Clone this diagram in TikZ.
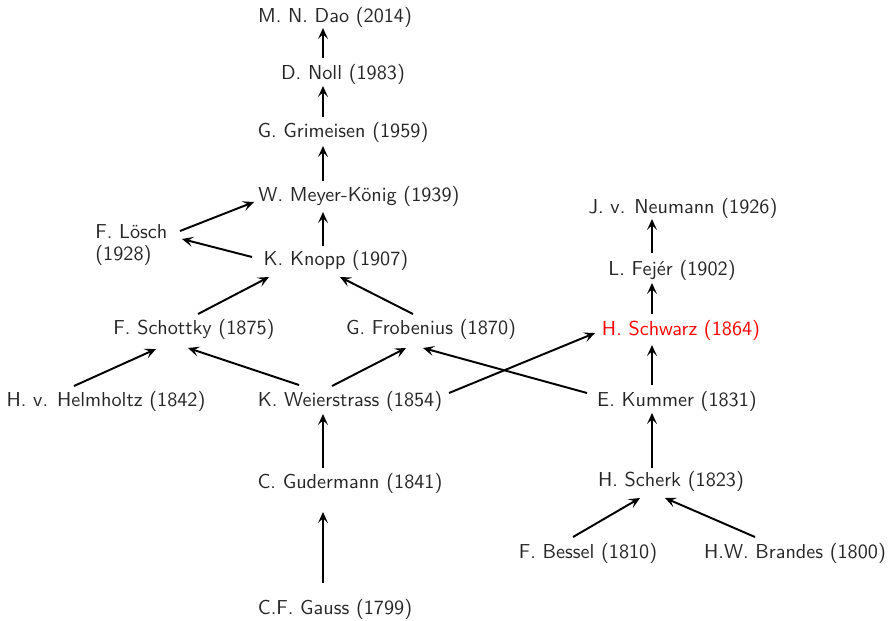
\documentclass[tikz,border=0pt]{standalone}
\usetikzlibrary{calc,arrows.meta}
\begin{document}
\begin{tikzpicture}[x=0.54pt,y=-0.54pt,
  person/.style={font=\sffamily\fontsize{10.9}{11.5}\selectfont, text=black!85, inner sep=0pt, anchor=center},
  link/.style={-{Stealth[length=6pt, width=5.4pt, inset=2.6pt]}, line width=1.05pt, black}]
\useasboundingbox (0,0) rectangle (888,621);
% nodes
\node[person] (dao) at (335,17) {M. N. Dao (2014)};
\node[person] (noll) at (343,74) {D. Noll (1983)};
\node[person] (grim) at (343,132) {G. Grimeisen (1959)};
\node[person] (mk) at (359,196) {W. Meyer-K\"onig (1939)};
\node[person, anchor=west, align=left] (losch) at (95,245) {F. L\"osch\\(1928)};
\node[person] (knopp) at (336,260) {K. Knopp (1907)};
\node[person] (neumann) at (683,208) {J. v. Neumann (1926)};
\node[person] (fejer) at (672,270) {L. Fej\'er (1902)};
\node[person] (schottky) at (194,329) {F. Schottky (1875)};
\node[person] (frob) at (431,329) {G. Frobenius (1870)};
\node[person, text=red] (schwarz) at (681,330) {H. Schwarz (1864)};
\node[person] (helm) at (106,401) {H. v. Helmholtz (1842)};
\node[person] (weier) at (350,401) {K. Weierstrass (1854)};
\node[person] (kummer) at (677,401) {E. Kummer (1831)};
\node[person] (guder) at (350,483) {C. Gudermann (1841)};
\node[person] (scherk) at (671,481) {H. Scherk (1823)};
\node[person] (bessel) at (588,553) {F. Bessel (1810)};
\node[person] (brandes) at (795,553) {H.W. Brandes (1800)};
\node[person] (gauss) at (335,609) {C.F. Gauss (1799)};
% connectors
\draw[link] ($(noll)+(-20,-16)$) -- ($(dao)+(-12,11)$);
\draw[link] ($(grim)+(-20,-15)$) -- ($(noll)+(-20,12)$);
\draw[link] ($(mk)+(-36,-15)$) -- ($(grim)+(-20,14)$);
\draw[link] ($(knopp)+(-13,-14)$) -- ($(mk)+(-36,16)$);
\draw[link] ($(losch.west)+(85,-14)$) -- ($(mk)+(-105,6)$);
\draw[link] ($(knopp)+(-84,-3)$) -- ($(losch.west)+(87,-6)$);
\draw[link] ($(schottky)+(4,-15)$) -- ($(knopp)+(-67,17)$);
\draw[link] ($(frob)+(-18,-15)$) -- ($(knopp)+(4,17)$);
\draw[link] ($(helm)+(-32,-15)$) -- ($(schottky)+(-38,20)$);
\draw[link] ($(weier)+(-51,-16)$) -- ($(schottky)+(-6,19)$);
\draw[link] ($(weier)+(-18,-15)$) -- ($(frob)+(-25,19)$);
\draw[link] ($(weier)+(99,-8)$) -- ($(schwarz)+(-86,3)$);
\draw[link] ($(kummer)+(-90,-8)$) -- ($(frob)+(-8,19)$);
\draw[link] ($(kummer)+(-25,-16)$) -- ($(schwarz)+(-29,15)$);
\draw[link] ($(schwarz)+(-29,-16)$) -- ($(fejer)+(-20,13)$);
\draw[link] ($(fejer)+(-20,-17)$) -- ($(neumann)+(-31,11)$);
\draw[link] ($(scherk)+(-19,-13)$) -- ($(kummer)+(-25,12)$);
\draw[link] ($(guder)+(-27,-15)$) -- ($(weier)+(-27,13)$);
\draw[link] ($(gauss)+(-12,-26)$) -- ($(guder)+(-27,29)$);
\draw[link] ($(bessel)+(-15,-16)$) -- ($(scherk)+(-31,17)$);
\draw[link] ($(brandes)+(-40,-16)$) -- ($(scherk)+(-6,17)$);
\end{tikzpicture}
\end{document}
